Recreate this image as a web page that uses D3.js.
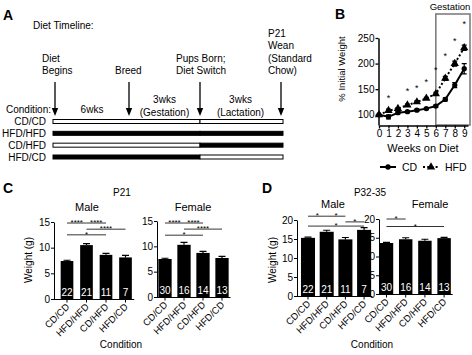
<!DOCTYPE html>
<html>
<head>
<meta charset="utf-8">
<script src="https://cdn.jsdelivr.net/npm/d3@7"></script>
<style>
  body { margin: 0; background: #fff; }
  svg { display: block; font-family: "Liberation Sans", Arial, sans-serif; }
</style>
</head>
<body>
<svg id="fig" width="472" height="355"></svg>
<script>
// ---------- data ----------
const conditions = ["CD/CD", "HFD/HFD", "CD/HFD", "HFD/CD"];
const preDiet  = ["CD", "HFD", "CD", "HFD"];
const postDiet = ["CD", "HFD", "HFD", "CD"];

const timelineEvents = [
  { week: 0,  lines: ["Diet", "Begins"] },
  { week: 6,  lines: ["Breed"] },
  { week: 9,  lines: ["Pups Born;", "Diet Switch"] },
  { week: 12, lines: ["P21", "Wean", "(Standard", "Chow)"] }
];
const periods = [
  { from: 0, to: 6,  lines: ["6wks"] },
  { from: 6, to: 9,  lines: ["3wks", "(Gestation)"] },
  { from: 9, to: 12, lines: ["3wks", "(Lactation)"] }
];

const weeks     = [0, 1, 2, 3, 4, 5, 6, 7, 8, 9];
const cdWeight  = [100, 96, 104, 106, 109, 112, 117, 130, 158, 190];
const cdErr     = [0, 4, 2, 2, 2, 2, 2, 3, 5, 10];
const hfdWeight = [100, 108, 112, 119, 125, 132, 141, 171, 200, 231];
const hfdErr    = [0, 3, 2, 2, 2, 2, 3, 4, 5, 5];
const starWeeks  = [1, 3, 4, 5, 6, 7, 8, 9];
const starLevels = [135, 149, 156, 167, 191, 217, 248, 280];

const maleN   = [22, 21, 11, 7];
const femaleN = [30, 16, 14, 13];

const p21Male      = [7.4, 10.5, 8.6, 8.1];
const p21MaleErr   = [0.15, 0.3, 0.3, 0.4];
const p21Female    = [7.5, 10.3, 8.7, 7.7];
const p21FemaleErr = [0.15, 0.5, 0.3, 0.3];
const p21MaleSig = [
  { a: 0, b: 1, label: "****", level: 14.8 },
  { a: 1, b: 2, label: "****", level: 14.8 },
  { a: 1, b: 3, label: "****", level: 13.6 },
  { a: 0, b: 2, label: "*",    level: 12.5 }
];
const p21FemaleSig = [
  { a: 0, b: 1, label: "****", level: 14.6 },
  { a: 1, b: 2, label: "****", level: 14.6 },
  { a: 1, b: 3, label: "****", level: 13.4 },
  { a: 0, b: 2, label: "*",    level: 12.2 }
];

const p32Male      = [15.3, 16.9, 14.9, 17.4];
const p32MaleErr   = [0.2, 0.4, 0.5, 0.6];
const p32Female    = [13.6, 14.6, 14.2, 14.9];
const p32FemaleErr = [0.15, 0.4, 0.4, 0.2];
const p32MaleSig = [
  { a: 0, b: 1, label: "*", level: 21.0 },
  { a: 1, b: 2, label: "*", level: 21.0 },
  { a: 2, b: 3, label: "*", level: 19.5 },
  { a: 0, b: 3, label: "*", level: 18.4 }
];
const p32FemaleSig = [
  { a: 0, b: 1, label: "*", level: 20.0 },
  { a: 0, b: 3, label: "*", level: 18.0 }
];

// ---------- setup ----------
const svg = d3.select("#fig");

function panelLetter(txt, x, y) {
  svg.append("text").attr("x", x).attr("y", y)
    .attr("font-size", 14).attr("font-weight", "bold").text(txt);
}

// ---------- Panel A: timeline ----------
panelLetter("A", 3, 20);
const gA = svg.append("g").attr("font-size", 10);

gA.append("text").attr("x", 33).attr("y", 29).text("Diet Timeline:");

const tX = d3.scaleLinear().domain([0, 6, 9, 12]).range([55, 129, 200, 281]);
const rowY = d3.scalePoint().domain(conditions).range([121.5, 157]);
const eventLabelDx = [-13, -14, -24, -13];

timelineEvents.forEach((ev, i) => {
  const x = tX(ev.week);
  gA.append("line").attr("x1", x).attr("x2", x).attr("y1", 82).attr("y2", 110)
    .attr("stroke", "#000").attr("stroke-width", 1.3);
  gA.append("path").attr("d", `M${x - 3.2},108 L${x + 3.2},108 L${x},116 Z`).attr("fill", "#000");
  const n = ev.lines.length;
  ev.lines.forEach((l, j) => {
    gA.append("text").attr("x", x + eventLabelDx[i]).attr("y", 74 - (n - 1 - j) * 12.3).text(l);
  });
});

periods.forEach(p => {
  const cx = (tX(p.from) + tX(p.to)) / 2;
  const ys = p.lines.length === 1 ? [113] : [103, 116];
  p.lines.forEach((l, j) => {
    gA.append("text").attr("x", cx).attr("y", ys[j]).attr("text-anchor", "middle").text(l);
  });
});

gA.append("text").attr("x", 51).attr("y", 113).attr("text-anchor", "end").text("Condition:");

conditions.forEach((c, i) => {
  const y = rowY(c);
  gA.append("text").attr("x", 46).attr("y", y + 3.5).attr("text-anchor", "end").text(c);
  const segs = [
    { x0: tX(0) - 2, x1: tX(9), diet: preDiet[i] },
    { x0: tX(9), x1: tX(12) + 2, diet: postDiet[i] }
  ];
  segs.forEach(s => {
    gA.append("rect").attr("x", s.x0).attr("y", y - 2).attr("width", s.x1 - s.x0).attr("height", 4)
      .attr("fill", s.diet === "CD" ? "#fff" : "#000")
      .attr("stroke", "#000").attr("stroke-width", 1);
  });
});

// ---------- Panel B: weight curves ----------
panelLetter("B", 335, 19);
const gB = svg.append("g").attr("font-size", 10);

const bx = d3.scaleLinear().domain([0, 9.4]).range([379, 468]);
const by = d3.scaleLinear().domain([80, 250]).range([125, 38]);

// gestation box
gB.append("rect").attr("x", bx(6)).attr("y", 14).attr("width", bx(9.4) + 2 - bx(6)).attr("height", 125 - 14)
  .attr("fill", "none").attr("stroke", "#7f7f7f").attr("stroke-width", 1.6);
gB.append("text").attr("x", 450).attr("y", 10).attr("text-anchor", "middle").attr("font-size", 9.5).text("Gestation");

const bxAxis = gB.append("g").attr("transform", "translate(0,125.5)")
  .call(d3.axisBottom(bx).tickValues(weeks).tickSize(3).tickSizeOuter(0).tickPadding(1));
bxAxis.select(".domain").attr("stroke-width", 1.5);
bxAxis.selectAll("text").attr("font-size", 10).attr("font-family", null);
const byAxis = gB.append("g").attr("transform", "translate(378.5,0)")
  .call(d3.axisLeft(by).tickValues([100, 150, 200, 250]).tickSize(3).tickSizeOuter(0).tickPadding(1));
byAxis.select(".domain").attr("stroke-width", 1.5);
gB.selectAll(".tick line").attr("stroke-width", 1.3);
byAxis.selectAll("text").attr("font-size", 10).attr("font-family", null);

gB.append("text").attr("transform", "translate(345,69) rotate(-90)")
  .attr("text-anchor", "middle").attr("font-size", 9.5).text("% Initial Weight");
gB.append("text").attr("x", 423).attr("y", 152).attr("text-anchor", "middle").attr("font-size", 11).text("Weeks on Diet");

const line = d3.line().x((d, i) => bx(weeks[i])).y(d => by(d));

function drawSeries(vals, errs, dash, symbol) {
  gB.append("path").attr("d", line(vals)).attr("fill", "none").attr("stroke", "#000")
    .attr("stroke-width", 2).attr("stroke-dasharray", dash);
  vals.forEach((v, i) => {
    const x = bx(weeks[i]);
    if (errs[i] > 0) {
      gB.append("path")
        .attr("d", `M${x},${by(v - errs[i])}V${by(v + errs[i])}M${x - 2.5},${by(v - errs[i])}h5M${x - 2.5},${by(v + errs[i])}h5`)
        .attr("stroke", "#000").attr("stroke-width", 1.2).attr("fill", "none");
    }
    gB.append("path").attr("transform", `translate(${x},${by(v)})`)
      .attr("d", d3.symbol(symbol).size(symbol === d3.symbolCircle ? 22 : 30)()).attr("fill", "#000");
  });
}
drawSeries(cdWeight, cdErr, null, d3.symbolCircle);
drawSeries(hfdWeight, hfdErr, "2,2.2", d3.symbolTriangle);

starWeeks.forEach((w, i) => {
  gB.append("text").attr("x", bx(w)).attr("y", by(starLevels[i]) + 4.5)
    .attr("text-anchor", "middle").attr("font-size", 9).text("*");
});

// legend
const legend = [
  { label: "CD",  x: 380, dash: null,    symbol: d3.symbolCircle },
  { label: "HFD", x: 423, dash: "2,2.2", symbol: d3.symbolTriangle }
];
legend.forEach(l => {
  gB.append("line").attr("x1", l.x).attr("x2", l.x + 16).attr("y1", 167).attr("y2", 167)
    .attr("stroke", "#000").attr("stroke-width", 2).attr("stroke-dasharray", l.dash);
  gB.append("path").attr("transform", `translate(${l.x + 8},167)`)
    .attr("d", d3.symbol(l.symbol).size(l.symbol === d3.symbolCircle ? 22 : 30)()).attr("fill", "#000");
  gB.append("text").attr("x", l.x + 22).attr("y", 170.5).attr("font-size", 10.5).text(l.label);
});

// ---------- Panels C & D: bar charts ----------
function drawBars(cfg) {
  const g = svg.append("g").attr("font-size", 9.5);
  const x = d3.scaleBand().domain(conditions)
    .range([cfg.left, cfg.left + 4 * cfg.step])
    .paddingInner(cfg.pInner).paddingOuter(cfg.pInner / 2);
  const y = d3.scaleLinear().domain([0, cfg.yMax]).range([cfg.y0, cfg.yTop]);
  const cx = i => x(conditions[i]) + x.bandwidth() / 2;

  g.selectAll("rect.bar").data(cfg.values).join("rect").attr("class", "bar")
    .attr("x", (d, i) => x(conditions[i])).attr("y", d => y(d))
    .attr("width", x.bandwidth()).attr("height", d => cfg.y0 - y(d)).attr("fill", "#000");

  g.selectAll("path.err").data(cfg.values).join("path").attr("class", "err")
    .attr("d", (d, i) => `M${cx(i)},${y(d)}V${y(d + cfg.errs[i])}M${cx(i) - 3.5},${y(d + cfg.errs[i])}h7`)
    .attr("stroke", "#000").attr("stroke-width", 1.2).attr("fill", "none");

  g.selectAll("text.n").data(cfg.ns).join("text").attr("class", "n")
    .attr("x", (d, i) => cx(i)).attr("y", cfg.y0 - 3).attr("text-anchor", "middle")
    .attr("fill", "#fff").attr("font-size", 10).text(d => d);

  const yAxis = g.append("g").attr("transform", `translate(${cfg.axisX},0)`)
    .call(d3.axisLeft(y).tickValues(cfg.ticks).tickSize(3).tickSizeOuter(0).tickPadding(1));
  yAxis.selectAll("text").attr("font-size", 10).attr("font-family", null);

  const xAxis = g.append("g").attr("transform", `translate(0,${cfg.y0 + 0.5})`)
    .call(d3.axisBottom(x).tickSize(3).tickSizeOuter(0));
  xAxis.select(".domain").remove();
  xAxis.selectAll("text").attr("font-size", 9.5).attr("font-family", null)
    .attr("text-anchor", "end").attr("y", 0).attr("dy", 0)
    .attr("transform", "translate(3,8) rotate(-45)");
  g.append("line").attr("x1", cfg.axisX).attr("x2", cfg.left + 4 * cfg.step - 1)
    .attr("y1", cfg.y0 + 0.5).attr("y2", cfg.y0 + 0.5).attr("stroke", "#000");

  cfg.sigs.forEach(s => {
    const yy = y(s.level);
    g.append("line").attr("x1", cx(s.a)).attr("x2", cx(s.b)).attr("y1", yy).attr("y2", yy)
      .attr("stroke", "#000").attr("stroke-width", 0.8);
    g.append("text").attr("x", (cx(s.a) + cx(s.b)) / 2).attr("y", yy + 2.2)
      .attr("text-anchor", "middle").attr("font-size", 8).text(s.label);
  });

  g.append("text").attr("x", cfg.titleX).attr("y", cfg.titleY).attr("text-anchor", "middle")
    .attr("font-size", 11).text(cfg.title);
}

function panelCommon(letter, letterX, heading, headingX, ylabelX, condX) {
  panelLetter(letter, letterX, 193);
  svg.append("text").attr("x", headingX).attr("y", 196).attr("text-anchor", "middle")
    .attr("font-size", 10).text(heading);
  svg.append("text").attr("transform", `translate(${ylabelX},260) rotate(-90)`)
    .attr("text-anchor", "middle").attr("font-size", 10).text("Weight (g)");
  svg.append("text").attr("x", condX).attr("y", 348).attr("text-anchor", "middle")
    .attr("font-size", 10).text("Condition");
}

panelCommon("C", 3, "P21", 122, 32, 121);
drawBars({ axisX: 54, left: 57.25, step: 19.5, pInner: 0.35, y0: 299, yTop: 222, yMax: 15,
  ticks: [0, 5, 10, 15], values: p21Male, errs: p21MaleErr, ns: maleN, sigs: p21MaleSig,
  title: "Male", titleX: 87, titleY: 211 });
drawBars({ axisX: 157, left: 155.5, step: 19, pInner: 0.3, y0: 297, yTop: 221, yMax: 15,
  ticks: [0, 5, 10, 15], values: p21Female, errs: p21FemaleErr, ns: femaleN, sigs: p21FemaleSig,
  title: "Female", titleX: 193, titleY: 211 });

panelCommon("D", 262, "P32-35", 370, 276, 372);
drawBars({ axisX: 297, left: 298.65, step: 18.7, pInner: 0.25, y0: 296, yTop: 220, yMax: 20,
  ticks: [0, 5, 10, 15, 20], values: p32Male, errs: p32MaleErr, ns: maleN, sigs: p32MaleSig,
  title: "Male", titleX: 333, titleY: 208 });
drawBars({ axisX: 379, left: 376.9, step: 19.2, pInner: 0.3, y0: 294, yTop: 219, yMax: 20,
  ticks: [0, 5, 10, 15, 20], values: p32Female, errs: p32FemaleErr, ns: femaleN, sigs: p32FemaleSig,
  title: "Female", titleX: 430, titleY: 208 });
</script>
</body>
</html>
